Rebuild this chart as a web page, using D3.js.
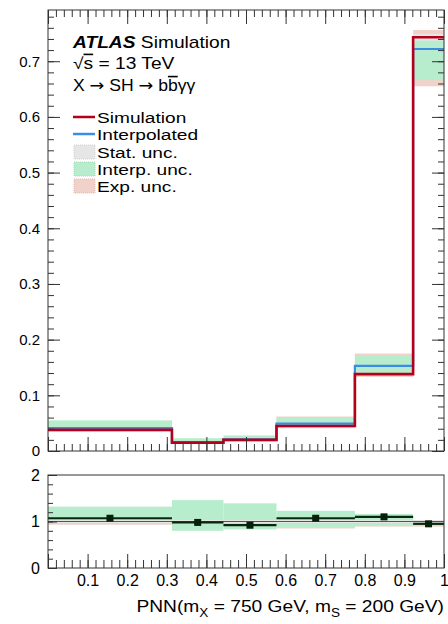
<!DOCTYPE html>
<html><head><meta charset="utf-8">
<script src="https://cdn.jsdelivr.net/npm/d3@7"></script>
<style>
html,body{margin:0;padding:0;background:#fff;}
svg{display:block;font-family:"Liberation Sans",Arial,Helvetica,sans-serif;}
</style></head>
<body><svg id="c" width="448" height="624"></svg>
<script>
// ---- data ----
const binEdges = [0, 0.313, 0.443, 0.577, 0.775, 0.922, 1];
const simulation   = [0.038, 0.015, 0.020, 0.045, 0.138, 0.743];
const interpolated = [0.041, 0.0155, 0.021, 0.049, 0.153, 0.722];
const statLo   = [0.037, 0.0144, 0.0193, 0.0438, 0.1355, 0.737];
const statHi   = [0.039, 0.0156, 0.0207, 0.0462, 0.1405, 0.749];
const interpLo = [0.037, 0.013, 0.017, 0.043, 0.140, 0.666];
const interpHi = [0.055, 0.023, 0.028, 0.061, 0.172, 0.741];
const expLo    = [0.035, 0.014, 0.0185, 0.041, 0.133, 0.655];
const expHi    = [0.041, 0.016, 0.0215, 0.062, 0.175, 0.756];
const ratio         = [1.07, 0.98, 0.92, 1.07, 1.10, 0.95];
const ratioInterpLo = [0.95, 0.80, 0.83, 0.88, 0.92, 0.93];
const ratioInterpHi = [1.32, 1.46, 1.39, 1.23, 1.16, 1.00];
const ratioExpLo    = [0.93, 0.93, 0.93, 0.85, 0.89, 0.89];
const ratioExpHi    = [1.06, 1.06, 1.06, 1.07, 1.10, 1.03];
const ratioStatLo   = [0.97, 0.97, 0.97, 0.97, 0.97, 0.97];
const ratioStatHi   = [1.03, 1.03, 1.03, 1.03, 1.03, 1.03];
const yTicks = [0, 0.1, 0.2, 0.3, 0.4, 0.5, 0.6, 0.7];
const xTickLabels = [0.1, 0.2, 0.3, 0.4, 0.5, 0.6, 0.7, 0.8, 0.9, 1];
const ratioTicks = [0, 1, 2];
const legendItems = [
  {label: "Simulation", kind: "line", color: "#b3001b"},
  {label: "Interpolated", kind: "line", color: "#3c8ce6"},
  {label: "Stat. unc.", kind: "box", color: "#e6e6e6", stroke: "#d0d0d0"},
  {label: "Interp. unc.", kind: "box", color: "#b7edcc", stroke: "#9fdcb6"},
  {label: "Exp. unc.", kind: "box", color: "#f1d2ca", stroke: "#e3b9ae"}
];

// ---- layout ----
const svg = d3.select("#c");
const L = 48, R = 444, T = 10, B = 451, RT = 475, RB = 568;
const x = d3.scaleLinear().domain([0, 1]).range([L, R]);
const y = d3.scaleLinear().domain([0, 0.792]).range([B, T]);
const yr = d3.scaleLinear().domain([0, 2]).range([RB, RT]);
const RED = "#b3001b", BLUE = "#3c8ce6", GREEN = "#b7edcc", PINK = "#f1d2ca", GRAY = "#e6e6e6";
const bins = simulation.map((v, i) => ({i, x0: binEdges[i], x1: binEdges[i + 1]}));

function bands(g, yScale, lo, hi, color) {
  g.selectAll(null).data(bins).enter().append("rect")
    .attr("x", d => x(d.x0)).attr("width", d => x(d.x1) - x(d.x0))
    .attr("y", d => yScale(hi[d.i])).attr("height", d => yScale(lo[d.i]) - yScale(hi[d.i]))
    .attr("fill", color);
}

// ---- main panel ----
const main = svg.append("g");
bands(main, y, expLo, expHi, PINK);
bands(main, y, interpLo, interpHi, GREEN);
bands(main, y, statLo, statHi, GRAY);

const stepLine = d3.line().x(d => x(d[0])).y(d => y(d[1])).curve(d3.curveStepAfter);
function stepPts(vals) {
  const p = vals.map((v, i) => [binEdges[i], v]);
  p.push([binEdges[binEdges.length - 1], vals[vals.length - 1]]);
  return p;
}
main.append("path").attr("d", stepLine(stepPts(interpolated))).attr("fill", "none").attr("stroke", BLUE).attr("stroke-width", 2.2);
main.append("path").attr("d", stepLine(stepPts(simulation))).attr("fill", "none").attr("stroke", RED).attr("stroke-width", 2.6);

// axes main
const fmt = d => d === 0 ? "0" : d3.format(".1f")(d);
const xMajor = d3.range(0, 1.0001, 0.1).map(v => +v.toFixed(2));
const xMinor = d3.range(0, 1.0001, 0.02).map(v => +v.toFixed(2));
const yMinor = d3.range(0, 0.7901, 0.02).map(v => +v.toFixed(2));
const axStyle = g => { g.selectAll(".domain").remove(); g.selectAll("line").attr("stroke", "#333").attr("stroke-width", 1); g.selectAll("text").attr("fill", "#000").attr("font-size", 15).attr("font-family", "Liberation Sans, Arial, sans-serif"); };

main.append("g").attr("transform", `translate(0,${B})`).call(d3.axisBottom(x).tickValues(xMinor).tickSize(-7).tickFormat("")).call(axStyle);
main.append("g").attr("transform", `translate(0,${B})`).call(d3.axisBottom(x).tickValues(xMajor).tickSize(-14).tickFormat("")).call(axStyle);
main.append("g").attr("transform", `translate(0,${T})`).call(d3.axisTop(x).tickValues(xMinor).tickSize(-7).tickFormat("")).call(axStyle);
main.append("g").attr("transform", `translate(0,${T})`).call(d3.axisTop(x).tickValues(xMajor).tickSize(-14).tickFormat("")).call(axStyle);
main.append("g").attr("transform", `translate(${L},0)`).call(d3.axisLeft(y).tickValues(yMinor).tickSize(-6).tickFormat("")).call(axStyle);
main.append("g").attr("transform", `translate(${L},0)`).call(d3.axisLeft(y).tickValues(yTicks).tickSize(-12).tickPadding(8).tickFormat(fmt)).call(axStyle);
main.append("g").attr("transform", `translate(${R},0)`).call(d3.axisRight(y).tickValues(yMinor).tickSize(-6).tickFormat("")).call(axStyle);
main.append("g").attr("transform", `translate(${R},0)`).call(d3.axisRight(y).tickValues(yTicks).tickSize(-12).tickFormat("")).call(axStyle);
main.append("rect").attr("x", L).attr("y", T).attr("width", R - L).attr("height", B - T).attr("fill", "none").attr("stroke", "#333").attr("stroke-width", 1);

// ---- texts ----
function stxt(parent, tx, ty, size, sx, anchor) {
  return parent.append("text").attr("transform", `translate(${tx},${ty}) scale(${sx},1)`)
    .attr("font-size", size).attr("text-anchor", anchor || "start").attr("fill", "#000");
}
const t1 = stxt(svg, 73, 48, 16, 1.2);
t1.append("tspan").attr("font-weight", "bold").attr("font-style", "italic").text("ATLAS");
t1.append("tspan").text(" Simulation");
const t2 = stxt(svg, 73, 69, 16, 1.2);
t2.append("tspan").text("√");
t2.append("tspan").style("text-decoration", "overline").text("s");
t2.append("tspan").text(" = 13 TeV");
const t3 = stxt(svg, 73, 91, 16, 1.1);
const arrow = () => t3.append("tspan").attr("font-family", "DejaVu Sans").text("→");
t3.append("tspan").text("X ");
arrow();
t3.append("tspan").text(" SH ");
arrow();
t3.append("tspan").text(" b");
t3.append("tspan").style("text-decoration", "overline").text("b");
t3.append("tspan").text("γγ");

// legend
const legY = [117, 134, 152, 169, 186];
legendItems.forEach((it, k) => {
  const cy = legY[k];
  if (it.kind === "line") {
    svg.append("line").attr("x1", 73).attr("x2", 95).attr("y1", cy).attr("y2", cy).attr("stroke", it.color).attr("stroke-width", 2.5);
  } else {
    svg.append("rect").attr("x", 74).attr("y", cy - 7).attr("width", 21).attr("height", 14)
      .attr("fill", it.color).attr("stroke", it.stroke).attr("stroke-dasharray", "1,1").attr("stroke-width", 1);
  }
  stxt(svg, 97, cy + 5.5, 14.5, 1.32).text(it.label);
});

// ---- ratio panel ----
const rp = svg.append("g");
bands(rp, yr, ratioExpLo, ratioExpHi, PINK);
bands(rp, yr, ratioInterpLo, ratioInterpHi, GREEN);
bands(rp, yr, ratioStatLo, ratioStatHi, GRAY);
rp.append("line").attr("x1", L).attr("x2", R).attr("y1", yr(1)).attr("y2", yr(1)).attr("stroke", "#555").attr("stroke-width", 1);
rp.selectAll(null).data(bins).enter().append("line")
  .attr("x1", d => x(d.x0)).attr("x2", d => x(d.x1))
  .attr("y1", d => yr(ratio[d.i])).attr("y2", d => yr(ratio[d.i]))
  .attr("stroke", "#072a0c").attr("stroke-width", 2.2);
rp.selectAll(null).data(bins).enter().append("rect")
  .attr("x", d => x((d.x0 + d.x1) / 2) - 3.5).attr("y", d => yr(ratio[d.i]) - 3.5)
  .attr("width", 7).attr("height", 7).attr("fill", "#06200a");

const rMinor = d3.range(0, 2.0001, 0.2).map(v => +v.toFixed(2));
rp.append("g").attr("transform", `translate(0,${RB})`).call(d3.axisBottom(x).tickValues(xMinor).tickSize(-8).tickFormat("")).call(axStyle);
rp.append("g").attr("transform", `translate(0,${RB})`).call(d3.axisBottom(x).tickValues(xMajor).tickSize(-14).tickFormat("")).call(axStyle);
rp.append("g").attr("transform", `translate(0,${RB})`).call(d3.axisBottom(x).tickValues(xTickLabels).tickSize(0).tickPadding(7).tickFormat(d => d === 1 ? "1" : d3.format(".1f")(d))).call(axStyle);
rp.append("g").attr("transform", `translate(${L},0)`).call(d3.axisLeft(yr).tickValues(rMinor).tickSize(-5).tickFormat("")).call(axStyle);
rp.append("g").attr("transform", `translate(${L},0)`).call(d3.axisLeft(yr).tickValues(ratioTicks).tickSize(-9).tickPadding(8).tickFormat(d3.format("d"))).call(axStyle);
rp.selectAll("text").attr("font-size", 16);
rp.append("rect").attr("x", L).attr("y", RT).attr("width", R - L).attr("height", RB - RT).attr("fill", "none").attr("stroke", "#333").attr("stroke-width", 1);

// x title
const xt = svg.append("text").attr("transform", `translate(${R},612) scale(1.13,1)`).attr("text-anchor", "end").attr("font-size", 17).attr("fill", "#000");
xt.append("tspan").text("PNN(m");
xt.append("tspan").attr("font-size", 12).attr("dy", 5).text("X");
xt.append("tspan").attr("dy", -5).text(" = 750 GeV, m");
xt.append("tspan").attr("font-size", 12).attr("dy", 5).text("S");
xt.append("tspan").attr("dy", -5).text(" = 200 GeV)");
</script></body></html>
